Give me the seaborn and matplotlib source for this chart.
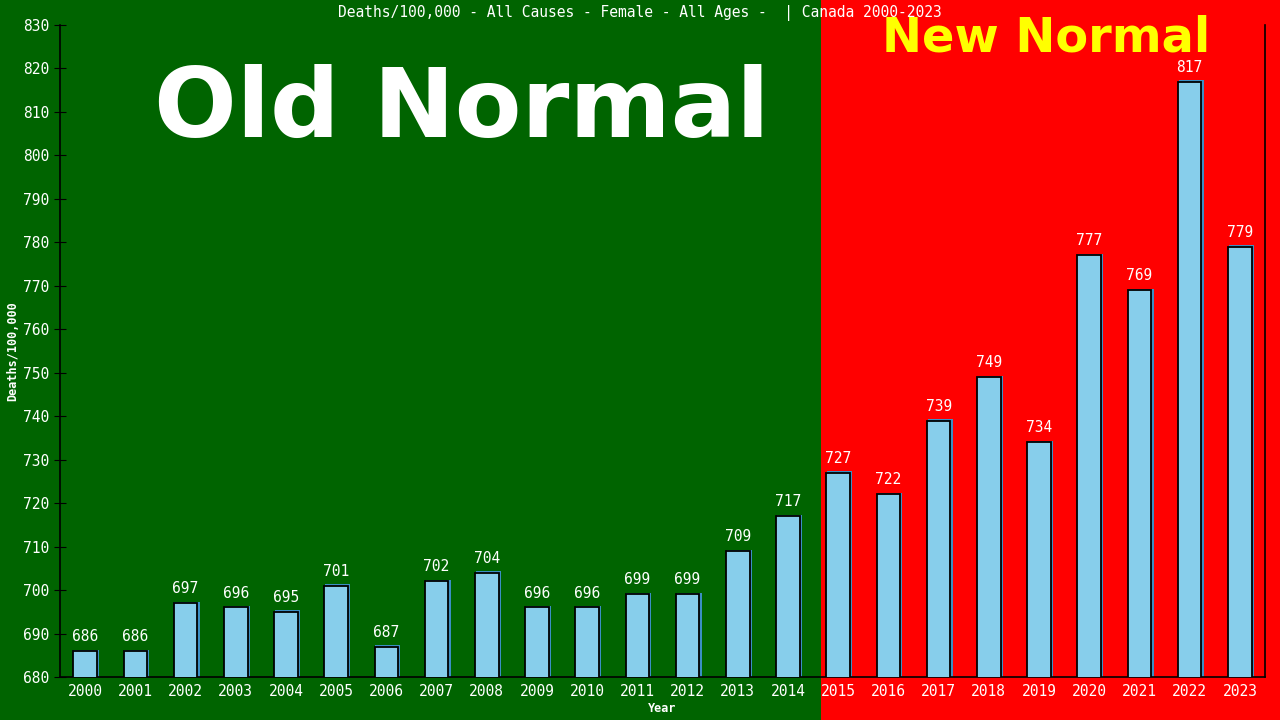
import matplotlib
matplotlib.use("Agg")
import matplotlib.pyplot as plt
import seaborn as sns
import pandas as pd
from matplotlib.patches import Rectangle

years = [str(y) for y in range(2000, 2024)]
deaths = [686, 686, 697, 696, 695, 701, 687, 702, 704, 696, 696, 699,
          699, 709, 717, 727, 722, 739, 749, 734, 777, 769, 817, 779]
y_ticks = list(range(680, 831, 10))

title = "Deaths/100,000 - All Causes - Female - All Ages -  | Canada 2000-2023"

sns.set_style("white")
plt.rcParams["font.family"] = ["DejaVu Sans Mono", "DejaVu Sans"]

df = pd.DataFrame({"Year": years, "Deaths": deaths})

fig = plt.figure(figsize=(12.8, 7.2), dpi=100)
fig.patch.set_facecolor("#006400")
# green / red backdrop over the whole figure
split = 821 / 1280
fig.patches.append(Rectangle((0, 0), split, 1, transform=fig.transFigure,
                             facecolor="#006400", edgecolor="none", zorder=-2))
fig.patches.append(Rectangle((split, 0), 1 - split, 1, transform=fig.transFigure,
                             facecolor="#ff0000", edgecolor="none", zorder=-2))

ax = fig.add_axes([60 / 1280, 43 / 720, 1205 / 1280, 652 / 720])
ax.set_facecolor("none")

# faint shadow behind bars
shadow = df.copy()
shadow["Deaths"] = shadow["Deaths"] + 0.3
sns.barplot(data=shadow, x="Year", y="Deaths", color="#3b8fc4", width=0.5,
            ax=ax, saturation=1, linewidth=0, zorder=2)
sns.barplot(data=df, x="Year", y="Deaths", color="#87ceeb", width=0.47,
            ax=ax, saturation=1, edgecolor="black", linewidth=1.3, zorder=3)
for p in ax.patches[:len(years)]:
    p.set_x(p.get_x() + 0.03)

ax.set_ylim(680, 830)
ax.set_xlim(-0.5, len(years) - 0.5)
ax.set_yticks(y_ticks)

for i, v in enumerate(deaths):
    ax.annotate(str(v), (i, v), xytext=(0, 5), textcoords="offset points",
                ha="center", va="bottom", color="white", fontsize=10.5, zorder=5)

for s in ["left", "bottom", "right"]:
    ax.spines[s].set_visible(True)
    ax.spines[s].set_color("black")
    ax.spines[s].set_linewidth(1.2)
ax.spines["top"].set_visible(False)

ax.tick_params(axis="y", direction="inout", length=8, color="black",
               labelcolor="white", labelsize=10.5, left=True)
ax.tick_params(axis="x", length=0, labelcolor="white", labelsize=10.5, pad=5)

ax.set_xlabel("Year", color="white", fontsize=8.5, fontweight="bold")
ax.set_ylabel("Deaths/100,000", color="white", fontsize=8.5, fontweight="bold")
ax.xaxis.set_label_coords(0.5, -(709 - 677) / 652)
ax.yaxis.set_label_coords(-(60 - 13) / 1205, 0.5)
ax.xaxis.label.set_va("center")
ax.yaxis.label.set_va("center")

fig.text(0.5, 1 - 13 / 720, title, ha="center", va="center", color="white", fontsize=10.5)
fig.text(462 / 1280, 1 - 137 / 720, "Old Normal", ha="center", va="baseline",
         color="white", fontsize=70, fontweight="bold", family="DejaVu Sans")
fig.text(1046 / 1280, 1 - 52 / 720, "New Normal", ha="center", va="baseline",
         color="#ffff00", fontsize=34.5, fontweight="bold", family="DejaVu Sans")

fig.savefig("out.png", dpi=100, facecolor=fig.get_facecolor())
